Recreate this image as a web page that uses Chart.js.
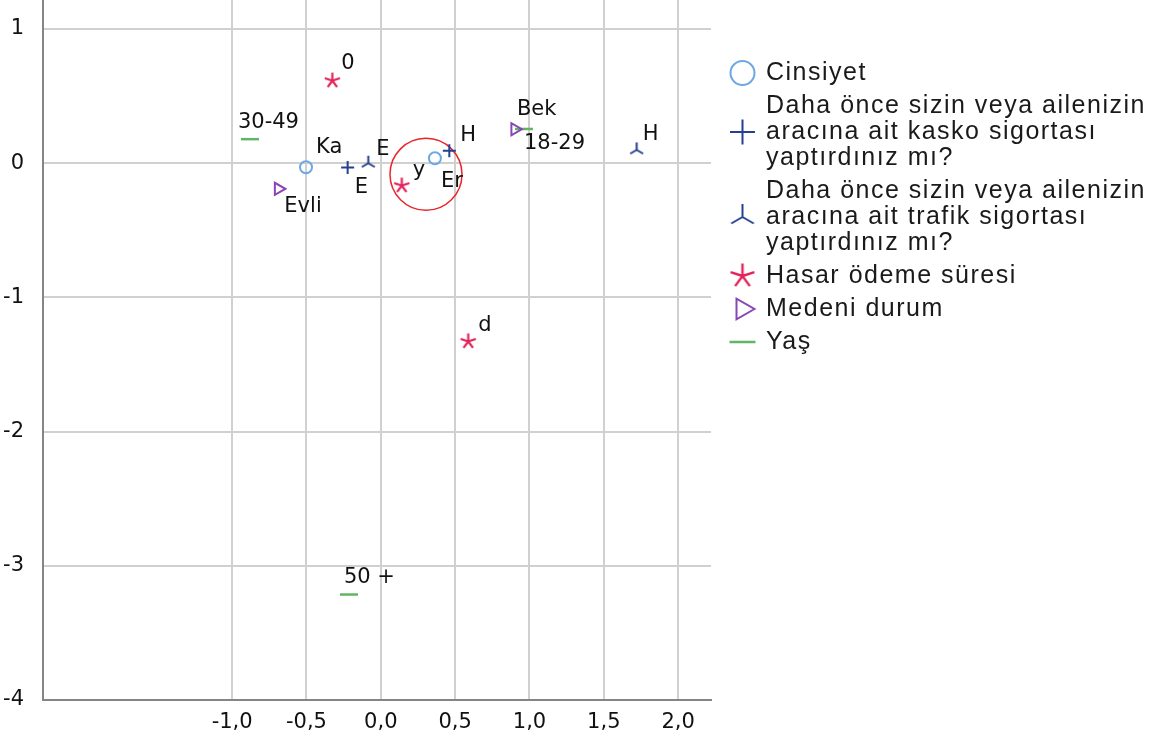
<!DOCTYPE html>
<html>
<head>
<meta charset="utf-8">
<script src="https://cdn.jsdelivr.net/npm/chart.js@4"></script>
<style>
  html, body { margin: 0; padding: 0; background: #fff; }
  #wrap { width: 1152px; height: 740px; }
</style>
</head>
<body>
<div id="wrap"><canvas id="chart"></canvas></div>
<script>
// category points, dimension 1 (x) and dimension 2 (y)
const cinsiyet_labels = ["Ka", "Er"];
const cinsiyet_x = [-0.503, 0.364];
const cinsiyet_y = [-0.030, 0.037];

const kasko_labels = ["E", "H"];
const kasko_x = [-0.223, 0.461];
const kasko_y = [-0.033, 0.092];

const trafik_labels = ["E", "H"];
const trafik_x = [-0.084, 1.721];
const trafik_y = [0.000, 0.099];

const hasar_labels = ["0", "y", "d"];
const hasar_x = [-0.326, 0.141, 0.588];
const hasar_y = [0.615, -0.167, -1.328];

const medeni_labels = ["Evli", "Bek"];
const medeni_x = [-0.689, 0.902];
const medeni_y = [-0.191, 0.253];

const yas_labels = ["30-49", "18-29", "50 +"];
const yas_x = [-0.880, 0.963, -0.214];
const yas_y = [0.179, 0.255, -3.214];

// highlighted region
const ring_x = [0.304];
const ring_y = [-0.083];

// axis ticks
const x_ticks = [-1.0, -0.5, 0.0, 0.5, 1.0, 1.5, 2.0];
const y_ticks = [-4, -3, -2, -1, 0, 1];

const PLOT_FONT = "DejaVu Sans";
const LEGEND_FONT = "Liberation Sans";

function toPoints(xs, ys) {
    return xs.map((x, i) => ({ x: x, y: ys[i] }));
}

// custom marker shapes
function makeTripod(r, color, lw) {
    const c = document.createElement("canvas");
    const s = Math.ceil(2 * r + lw * 2);
    c.width = c.height = s;
    const g = c.getContext("2d");
    g.strokeStyle = color;
    g.lineWidth = lw;
    g.beginPath();
    [-90, 30, 150].forEach(a => {
        const t = a * Math.PI / 180;
        g.moveTo(s / 2, s / 2);
        g.lineTo(s / 2 + r * Math.cos(t), s / 2 + r * Math.sin(t));
    });
    g.stroke();
    return c;
}
function makeAsterisk(r, color, lw) {
    const c = document.createElement("canvas");
    const s = Math.ceil(2 * r + lw * 2);
    c.width = c.height = s;
    const g = c.getContext("2d");
    g.strokeStyle = color;
    g.lineWidth = lw;
    g.beginPath();
    [-90, -18, 54, 126, 198].forEach(a => {
        const t = a * Math.PI / 180;
        g.moveTo(s / 2, s / 2);
        g.lineTo(s / 2 + r * Math.cos(t), s / 2 + r * Math.sin(t));
    });
    g.stroke();
    return c;
}

const blue_light = "#6ea8e4";
const blue_dark = "#24408f";
const red = "#e2245a";
const purple = "#8a45b5";
const green = "#62b562";

const datasets = [
    {
        legendLines: ["Cinsiyet"],
        data: toPoints(cinsiyet_x, cinsiyet_y),
        pointLabels: cinsiyet_labels,
        labelOffsets: [[10, -20], [6, 23]],
        pointStyle: "circle", pointRadius: 6, legendRadius: 12,
        pointBorderColor: blue_light, pointBorderWidth: 2
    },
    {
        legendLines: ["Daha önce sizin veya ailenizin", "aracına ait kasko sigortası", "yaptırdınız mı?"],
        data: toPoints(kasko_x, kasko_y),
        pointLabels: kasko_labels,
        labelOffsets: [[7, 20], [11, -15]],
        pointStyle: "cross", pointRadius: 6.5, legendRadius: 12.5,
        pointBorderColor: blue_dark, pointBorderWidth: 2
    },
    {
        legendLines: ["Daha önce sizin veya ailenizin", "aracına ait trafik sigortası", "yaptırdınız mı?"],
        data: toPoints(trafik_x, trafik_y),
        pointLabels: trafik_labels,
        labelOffsets: [[8, -14], [6, -15]],
        pointStyle: makeTripod(7.5, blue_dark, 2), legendStyle: makeTripod(13, blue_dark, 2),
        pointRadius: 8,
        pointBorderColor: blue_dark, pointBorderWidth: 2
    },
    {
        legendLines: ["Hasar ödeme süresi"],
        data: toPoints(hasar_x, hasar_y),
        pointLabels: hasar_labels,
        labelOffsets: [[9, -17], [11, -15], [10, -16]],
        pointStyle: makeAsterisk(8, red, 2.2), legendStyle: makeAsterisk(12.5, red, 2.4),
        pointRadius: 8,
        pointBorderColor: red, pointBorderWidth: 2
    },
    {
        legendLines: ["Medeni durum"],
        data: toPoints(medeni_x, medeni_y),
        pointLabels: medeni_labels,
        labelOffsets: [[6, 18], [2, -20]],
        pointStyle: "triangle", pointRotation: 90, pointRadius: 7, legendRadius: 12,
        pointBorderColor: purple, pointBorderWidth: 2
    },
    {
        legendLines: ["Yaş"],
        data: toPoints(yas_x, yas_y),
        pointLabels: yas_labels,
        labelOffsets: [[-12, -17], [0, 15], [-5, -17]],
        pointStyle: "line", pointRadius: 9, legendRadius: 13,
        pointBorderColor: green, pointBorderWidth: 2.5
    },
    {
        data: toPoints(ring_x, ring_y),
        pointStyle: "circle", pointRadius: 36,
        pointBorderColor: "#e8262a", pointBorderWidth: 1.5
    }
];
datasets.forEach(ds => {
    ds.showLine = false;
    ds.pointBackgroundColor = "rgba(0,0,0,0)";
});

// text next to each category point
const pointText = {
    id: "pointText",
    afterDatasetsDraw(chart) {
        const ctx = chart.ctx;
        ctx.save();
        ctx.font = "21px '" + PLOT_FONT + "'";
        ctx.fillStyle = "#111";
        ctx.textAlign = "left";
        ctx.textBaseline = "middle";
        chart.data.datasets.forEach((ds, di) => {
            if (!ds.pointLabels) return;
            const meta = chart.getDatasetMeta(di);
            ds.pointLabels.forEach((t, i) => {
                const el = meta.data[i];
                const off = ds.labelOffsets[i];
                ctx.fillText(t, el.x + off[0], el.y + off[1]);
            });
        });
        ctx.restore();
    }
};

// legend to the right of the plot, with wrapped variable names
const sideLegend = {
    id: "sideLegend",
    afterDraw(chart) {
        const ctx = chart.ctx;
        const symX = 742.5, textX = 766, lineH = 26, gap = 7;
        let top = 60;
        chart.data.datasets.forEach(ds => {
            if (!ds.legendLines) return;
            const h = ds.legendLines.length * lineH;
            ctx.save();
            ctx.font = "25px '" + LEGEND_FONT + "'";
            ctx.letterSpacing = "1.5px";
            ctx.fillStyle = "#1a1a1a";
            ctx.textAlign = "left";
            ctx.textBaseline = "middle";
            ds.legendLines.forEach((t, i) => ctx.fillText(t, textX, top + lineH * i + lineH / 2));
            ctx.strokeStyle = ds.pointBorderColor;
            ctx.fillStyle = "rgba(0,0,0,0)";
            ctx.lineWidth = ds.pointBorderWidth;
            Chart.helpers.drawPoint(ctx, {
                pointStyle: ds.legendStyle || ds.pointStyle,
                radius: ds.legendRadius || ds.pointRadius,
                rotation: ds.pointRotation || 0,
                borderWidth: ds.pointBorderWidth
            }, symX, top + h / 2);
            ctx.restore();
            top += h + gap;
        });
    }
};

// keep the plot area flush with the canvas top
function noEdgePadding(scale) {
    scale.paddingTop = 0;
    scale.paddingBottom = 0;
    scale.paddingLeft = 0;
    scale.paddingRight = 0;
}

Chart.defaults.font.family = PLOT_FONT;
Chart.defaults.font.size = 21;
Chart.defaults.color = "#111";

const chart = new Chart("chart", {
    type: "scatter",
    data: { datasets: datasets },
    plugins: [pointText, sideLegend],
    options: {
        animation: false,
        responsive: true,
        maintainAspectRatio: false,
        events: [],
        layout: { autoPadding: false, padding: { left: 0, top: 0, right: 441, bottom: 0 } },
        plugins: {
            legend: { display: false },
            tooltip: { enabled: false }
        },
        scales: {
            x: {
                type: "linear",
                min: -2.272,
                max: 2.221,
                afterBuildTicks: (scale) => { scale.ticks = x_ticks.map(v => ({ value: v })); },
                afterFit: (scale) => { scale.height = 40; noEdgePadding(scale); },
                grid: { color: "#d0d0d0", lineWidth: 2, drawTicks: false },
                border: { color: "#858585", width: 2 },
                ticks: {
                    padding: 10,
                    maxRotation: 0,
                    callback: (v) => v.toFixed(1).replace(".", ",")
                }
            },
            y: {
                type: "linear",
                min: -4,
                max: 1.216,
                afterBuildTicks: (scale) => { scale.ticks = y_ticks.map(v => ({ value: v })); },
                afterFit: (scale) => { scale.width = 43; noEdgePadding(scale); },
                grid: { color: "#d0d0d0", lineWidth: 2, drawTicks: false },
                border: { color: "#858585", width: 2 },
                ticks: {
                    padding: 19,
                    callback: (v) => String(v)
                }
            }
        }
    }
});
</script>
</body>
</html>
